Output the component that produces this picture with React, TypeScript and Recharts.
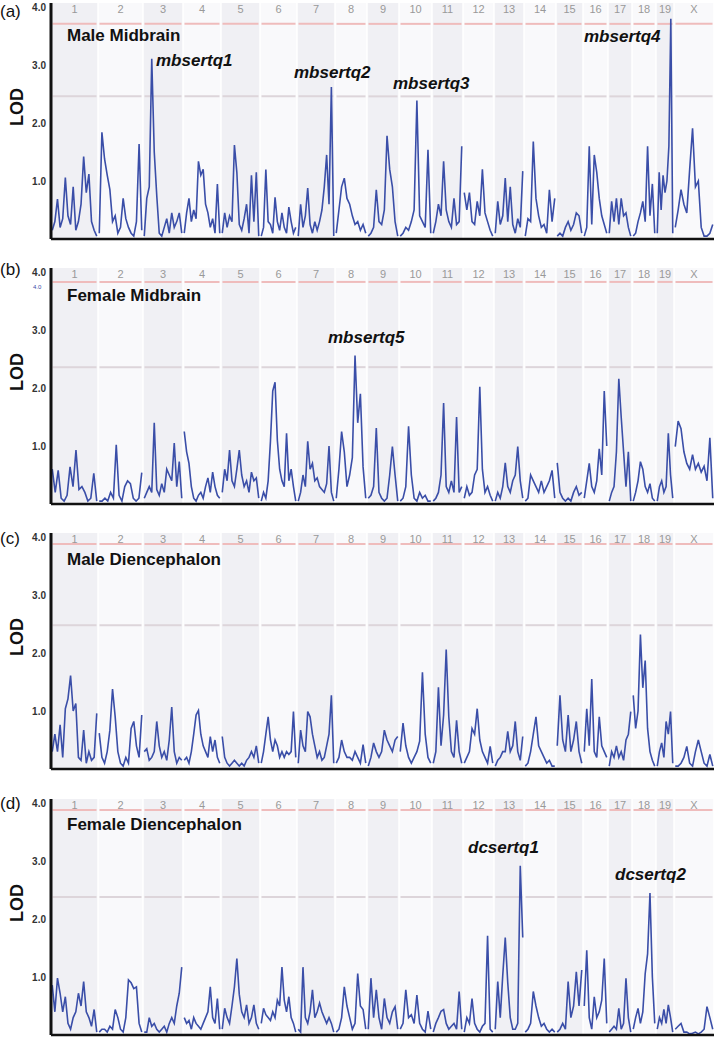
import React from "react";
import { LineChart, Line, XAxis, YAxis, ReferenceArea, ReferenceLine } from "recharts";

const CHROMS = ["1", "2", "3", "4", "5", "6", "7", "8", "9", "10", "11", "12", "13", "14", "15", "16", "17", "18", "19", "X"];
// chromosome spans on the genome axis (Mb, incl. spacing)
const CHROM_LEN = [188, 180, 160, 152, 156, 148, 152, 128, 128, 132, 124, 124, 120, 128, 108, 100, 96, 96, 72, 160];
const LOD_TICKS = [1, 2, 3, 4];

// LOD scores per chromosome, read left to right (evenly spaced along each chromosome)
const maleMidbrain = [
  [0.15, 0.3, 0.69, 0.2, 0.35, 1.06, 0.4, 0.25, 0.9, 0.15, 0.3, 0.6, 1.42, 0.8, 1.12, 0.3, 0.15, 0.05],
  [0.1, 1.84, 1.38, 1.1, 0.85, 0.3, 0.4, 0.1, 0.2, 0.7, 0.35, 0.2, 0.1, 0.05, 0.3, 1.64, 0.15],
  [0.05, 0.7, 0.9, 3.11, 1.5, 0.75, 0.1, 0.05, 0.2, 0.35, 0.1, 0.45, 0.2, 0.3, 0.45, 0.1],
  [0.1, 0.45, 0.7, 0.3, 0.5, 0.35, 1.34, 1.1, 1.2, 0.6, 0.45, 0.2, 0.35, 0.1, 0.95, 0.1],
  [0.1, 0.45, 0.2, 0.4, 0.3, 1.62, 1.15, 0.25, 0.15, 0.35, 0.6, 0.1, 1.1, 0.3, 1.15, 0.05],
  [0.05, 0.2, 1.2, 0.3, 0.25, 0.1, 0.72, 0.3, 0.15, 0.45, 0.2, 0.1, 0.55, 0.3, 0.1, 0.2],
  [0.05, 0.6, 0.2, 0.4, 0.88, 0.25, 0.1, 0.3, 0.15, 0.3, 0.5, 0.9, 1.45, 0.6, 2.62, 0.05],
  [0.1, 0.5, 0.9, 1.05, 0.7, 0.6, 0.4, 0.25, 0.3, 0.15, 0.25, 0.1],
  [0.05, 0.1, 0.2, 0.85, 0.3, 0.25, 0.5, 1.78, 1.2, 0.9, 0.3, 0.05],
  [0.05, 0.1, 0.2, 0.15, 0.3, 0.5, 2.39, 0.4, 0.3, 0.2, 1.54, 0.1],
  [0.1, 0.3, 0.6, 0.4, 1.34, 0.5, 0.3, 0.2, 0.7, 0.25, 0.3, 1.6],
  [0.8, 0.5, 0.8, 0.3, 0.25, 0.65, 0.4, 1.2, 0.45, 0.3, 0.15, 0.05],
  [0.1, 0.65, 0.25, 0.4, 1.05, 0.3, 0.9, 0.25, 0.1, 0.35, 0.2, 1.17],
  [0.05, 0.35, 0.3, 1.68, 0.7, 0.4, 0.2, 0.25, 0.1, 0.85, 0.3, 0.7],
  [0.05, 0.1, 0.05, 0.2, 0.3, 0.15, 0.25, 0.45, 0.4, 0.1],
  [0.05, 0.2, 1.6, 0.25, 1.45, 1.15, 0.7, 0.4, 0.25, 0.1],
  [0.1, 0.65, 0.3, 0.7, 0.25, 0.7, 0.4, 0.45, 0.2, 0.05],
  [0.05, 0.1, 0.3, 0.45, 0.65, 0.3, 1.6, 0.4, 0.95, 0.1],
  [0.1, 1.15, 0.5, 1.1, 0.8, 1.0, 1.6, 3.8, 0.1],
  [0.2, 0.5, 0.85, 0.6, 0.45, 1.2, 1.91, 0.9, 1.0, 0.2, 0.05, 0.05, 0.1, 0.25],
];

const femaleMidbrain = [
  [0.6, 0.2, 0.58, 0.1, 0.05, 0.15, 0.64, 0.3, 0.93, 0.25, 0.3, 0.2, 0.05, 0.1, 0.53, 0.05],
  [0.05, 0.05, 0.1, 0.05, 0.2, 0.1, 1.02, 0.15, 0.05, 0.3, 0.4, 0.35, 0.1, 0.05, 0.1, 0.54],
  [0.1, 0.2, 0.3, 0.2, 1.4, 0.25, 0.15, 0.35, 0.2, 0.6, 0.5, 0.4, 1.05, 0.3, 0.73, 0.1],
  [1.25, 0.9, 0.7, 0.3, 0.1, 0.05, 0.15, 0.2, 0.1, 0.3, 0.45, 0.2, 0.55, 0.3, 0.15, 0.1],
  [0.2, 0.6, 0.4, 0.93, 0.4, 0.3, 0.6, 0.93, 0.5, 0.3, 0.4, 0.2, 0.55, 0.4, 0.45, 0.1],
  [0.05, 0.2, 0.1, 0.4, 1.08, 1.95, 2.1, 1.1, 0.6, 0.4, 0.3, 1.22, 0.4, 0.6, 0.3, 0.05],
  [0.05, 0.2, 0.5, 0.3, 1.08, 0.6, 0.7, 0.4, 0.45, 0.3, 0.25, 0.2, 0.35, 1.0, 0.2, 0.05],
  [0.1, 0.6, 1.25, 0.9, 0.3, 0.5, 0.8, 2.56, 1.4, 1.9, 0.64, 0.1],
  [0.1, 0.15, 0.3, 1.31, 0.2, 0.1, 0.05, 0.1, 0.5, 0.99, 0.5, 0.05],
  [0.05, 0.1, 0.3, 1.34, 0.5, 0.1, 0.05, 0.2, 0.1, 0.15, 0.05, 0.05],
  [0.05, 0.1, 0.2, 0.5, 1.74, 0.3, 0.2, 0.4, 0.2, 1.5, 0.2, 0.3],
  [0.1, 0.3, 0.15, 0.2, 0.5, 0.6, 2.02, 0.6, 0.2, 0.3, 0.15, 0.05],
  [0.05, 0.2, 0.1, 0.3, 0.71, 0.3, 0.2, 0.4, 0.5, 0.99, 0.4, 0.1],
  [0.05, 0.1, 0.5, 0.4, 0.3, 0.2, 0.4, 0.2, 0.3, 0.4, 0.58, 0.1],
  [0.71, 0.2, 0.1, 0.05, 0.1, 0.05, 0.2, 0.3, 0.15, 0.2],
  [0.1, 0.4, 0.7, 0.3, 0.2, 0.4, 0.95, 0.5, 1.95, 1.0],
  [0.05, 0.2, 0.3, 0.9, 2.16, 1.5, 0.9, 0.3, 0.9, 0.05],
  [0.05, 0.2, 0.4, 0.73, 0.6, 0.3, 0.2, 0.35, 0.1, 0.05],
  [0.05, 0.3, 0.4, 0.2, 0.3, 1.22, 0.5, 0.1],
  [0.99, 1.43, 1.3, 0.9, 0.7, 0.6, 0.85, 0.6, 0.7, 0.55, 0.65, 0.4, 1.14, 0.1],
];

const maleDiencephalon = [
  [0.3, 0.6, 0.3, 0.76, 0.2, 1.04, 1.21, 1.61, 1.0, 1.13, 0.2, 0.15, 0.67, 0.1, 0.3, 0.15, 0.2, 0.96],
  [0.62, 0.2, 0.1, 0.3, 0.67, 1.38, 0.9, 0.3, 0.1, 0.05, 0.2, 0.1, 0.7, 0.82, 0.4, 0.2, 0.93],
  [0.3, 0.35, 0.15, 0.2, 0.3, 0.82, 0.4, 0.2, 0.3, 0.15, 0.5, 1.07, 0.3, 0.1, 0.2, 0.15],
  [0.15, 0.2, 0.1, 0.3, 0.6, 0.93, 1.01, 0.6, 0.4, 0.3, 0.2, 0.56, 0.3, 0.5, 0.2, 0.1],
  [0.56, 0.2, 0.1, 0.05, 0.1, 0.15, 0.1, 0.05, 0.1, 0.05, 0.15, 0.2, 0.3, 0.2, 0.4, 0.1],
  [0.1, 0.3, 0.6, 0.9, 0.5, 0.3, 0.5, 0.4, 0.2, 0.3, 0.2, 0.3, 0.25, 0.3, 0.99, 0.2],
  [0.1, 0.67, 0.4, 0.3, 0.99, 0.9, 0.6, 0.4, 0.2, 0.3, 0.15, 0.2, 0.4, 0.6, 1.27, 0.1],
  [0.1, 0.2, 0.5, 0.3, 0.2, 0.2, 0.15, 0.3, 0.2, 0.1, 0.42, 0.1],
  [0.05, 0.2, 0.45, 0.3, 0.2, 0.3, 0.67, 0.5, 0.4, 0.3, 0.5, 0.56],
  [0.3, 0.79, 0.4, 0.2, 0.1, 0.2, 0.3, 0.48, 1.67, 0.6, 0.2, 0.1],
  [0.1, 0.3, 1.41, 0.4, 0.93, 2.06, 0.9, 0.3, 0.2, 0.84, 0.3, 0.1],
  [0.1, 0.2, 0.3, 0.7, 0.6, 1.04, 0.5, 0.3, 0.2, 0.1, 0.39, 0.1],
  [0.05, 0.15, 0.2, 0.3, 0.3, 0.65, 0.3, 0.4, 0.82, 0.3, 0.15, 0.56],
  [0.05, 0.1, 0.3, 0.6, 0.9, 0.4, 0.3, 0.2, 0.1, 0.15, 0.05, 0.05],
  [0.4, 1.27, 0.5, 0.3, 0.93, 0.3, 0.5, 0.82, 0.3, 0.1],
  [0.3, 1.04, 0.4, 1.55, 0.3, 0.2, 0.9, 0.4, 0.3, 0.2],
  [0.05, 0.3, 0.2, 0.4, 0.2, 0.3, 0.15, 0.5, 0.6, 0.99],
  [1.27, 0.7, 1.0, 2.32, 1.4, 1.87, 0.7, 0.3, 0.15, 0.05],
  [0.05, 0.3, 0.45, 0.2, 0.82, 0.6, 0.99, 0.1],
  [0.05, 0.05, 0.1, 0.2, 0.39, 0.1, 0.05, 0.3, 0.5, 0.3, 0.1, 0.05, 0.25, 0.05],
];

const femaleDiencephalon = [
  [0.86, 0.4, 0.98, 0.72, 0.4, 0.66, 0.2, 0.1, 0.3, 0.4, 0.72, 0.5, 0.92, 0.4, 0.3, 0.15, 0.44, 0.05],
  [0.05, 0.1, 0.1, 0.05, 0.15, 0.1, 0.44, 0.3, 0.1, 0.05, 0.3, 0.95, 0.9, 0.8, 0.83, 0.2, 0.05],
  [0.05, 0.05, 0.3, 0.15, 0.2, 0.1, 0.05, 0.1, 0.15, 0.05, 0.2, 0.3, 0.2, 0.5, 0.72, 1.17],
  [0.3, 0.2, 0.25, 0.1, 0.3, 0.2, 0.15, 0.1, 0.2, 0.3, 0.4, 0.83, 0.3, 0.2, 0.63, 0.1],
  [0.1, 0.46, 0.3, 0.2, 0.5, 0.83, 1.32, 0.7, 0.4, 0.3, 0.52, 0.2, 0.3, 0.52, 0.2, 0.1],
  [0.2, 0.46, 0.35, 0.3, 0.25, 0.4, 0.3, 0.6, 0.5, 1.17, 0.6, 0.4, 0.66, 0.3, 0.2, 0.05],
  [0.1, 0.05, 1.17, 0.3, 0.2, 0.4, 0.78, 0.3, 0.4, 0.55, 0.4, 0.3, 0.2, 0.3, 0.2, 0.05],
  [0.05, 0.1, 0.3, 0.83, 0.5, 0.3, 0.1, 0.2, 1.06, 0.5, 0.44, 0.1],
  [0.1, 0.98, 0.3, 0.78, 0.3, 0.1, 0.63, 0.3, 0.2, 0.4, 0.49, 0.1],
  [0.1, 0.2, 0.78, 0.3, 0.35, 0.2, 0.69, 0.2, 0.1, 0.05, 0.41, 0.1],
  [0.05, 0.2, 0.3, 0.41, 0.44, 0.2, 0.1, 0.15, 0.2, 0.1, 0.75, 0.1],
  [0.05, 0.3, 0.2, 0.63, 0.2, 0.1, 0.05, 0.15, 0.2, 1.71, 0.1, 0.05],
  [0.1, 0.92, 0.3, 1.03, 1.68, 0.9, 0.3, 0.1, 0.1, 0.2, 2.92, 1.68],
  [0.05, 0.1, 0.2, 0.75, 0.5, 0.3, 0.15, 0.2, 0.1, 0.05, 0.1, 0.05],
  [0.05, 0.1, 0.2, 0.1, 0.92, 0.3, 0.5, 1.09, 0.5, 1.12],
  [0.5, 1.46, 0.3, 0.1, 0.66, 0.3, 0.4, 0.6, 1.32, 0.2],
  [0.05, 0.1, 0.15, 0.1, 0.46, 0.1, 0.2, 0.98, 0.3, 0.05],
  [0.1, 0.3, 0.46, 0.2, 0.4, 1.06, 1.4, 2.45, 1.0, 0.2],
  [0.1, 0.3, 0.2, 0.44, 0.2, 0.52, 0.3, 0.05],
  [0.1, 0.15, 0.2, 0.05, 0.05, 0.02, 0.03, 0.05, 0.02, 0.05, 0.1, 0.49, 0.3, 0.1],
];

// significant / suggestive thresholds per panel
const significant = [3.71, 3.83, 3.88, 3.88];
const suggestive = [2.46, 2.36, 2.48, 2.38];

const panelLetters = ["(a)", "(b)", "(c)", "(d)"];
const panelTitles = ["Male Midbrain", "Female Midbrain", "Male Diencephalon", "Female Diencephalon"];
const qtlLabels = [
  [{ text: "mbsertq1", left: 156, top: 61 }, { text: "mbsertq2", left: 294, top: 73 }, { text: "mbsertq3", left: 393, top: 84 }, { text: "mbsertq4", left: 584, top: 37 }],
  [{ text: "mbsertq5", left: 328, top: 73 }],
  [],
  [{ text: "dcsertq1", left: 468, top: 52 }, { text: "dcsertq2", left: 615, top: 79 }],
];
const panelTops = [0, 265, 530, 796];
const letterTops = [12, 5, 9, 8];
const titleTops = [36, 31, 30, 29];

const FONT = '"Liberation Sans", Arial, Helvetica, sans-serif';
const STARTS = CHROM_LEN.map((_, i) => CHROM_LEN.slice(0, i).reduce((a, b) => a + b, 0));
const TOTAL = CHROM_LEN.reduce((a, b) => a + b, 0);

function buildRows(lods: number[][]) {
  const rows: { x: number; lod: number | null }[] = [];
  lods.forEach((vals, c) => {
    const s = STARTS[c] + 5;
    const e = STARTS[c] + CHROM_LEN[c] - 5;
    vals.forEach((v, i) => rows.push({ x: s + ((e - s) * i) / (vals.length - 1), lod: v }));
    rows.push({ x: e + 2, lod: null });
  });
  return rows;
}

const panelData = [maleMidbrain, femaleMidbrain, maleDiencephalon, femaleDiencephalon];

function Panel({ idx }: { idx: number }) {
  const rows = buildRows(panelData[idx]);
  return (
    <div style={{ position: "absolute", left: 0, top: panelTops[idx], width: 717, height: 265 }}>
      <LineChart width={717} height={265} data={rows} margin={{ top: 3, right: 3, bottom: 24, left: 0 }}>
        {CHROMS.map((c, i) => (
          <ReferenceArea
            key={"b" + c}
            x1={STARTS[i] + 3}
            x2={STARTS[i] + CHROM_LEN[i] - 3}
            fill={i % 2 === 0 ? "#f0f0f4" : "#f9f9fb"}
            fillOpacity={1}
            stroke="none"
            label={{ value: c, position: "insideTop", offset: 2, fill: "#999", fontSize: 11, fontFamily: FONT }}
          />
        ))}
        {CHROMS.map((c, i) => (
          <ReferenceLine
            key={"s" + c}
            segment={[{ x: STARTS[i] + 6, y: significant[idx] }, { x: STARTS[i] + CHROM_LEN[i] - 6, y: significant[idx] }]}
            stroke="#efbcbc"
            strokeWidth={2}
          />
        ))}
        {CHROMS.map((c, i) => (
          <ReferenceLine
            key={"g" + c}
            segment={[{ x: STARTS[i] + 6, y: suggestive[idx] }, { x: STARTS[i] + CHROM_LEN[i] - 6, y: suggestive[idx] }]}
            stroke="#ddd5da"
            strokeWidth={2}
          />
        ))}
        <XAxis
          type="number"
          dataKey="x"
          domain={[0, TOTAL]}
          tick={false}
          tickLine={false}
          height={2}
          axisLine={{ stroke: "#111", strokeWidth: 2.5 }}
        />
        <YAxis
          type="number"
          domain={[0, 4.07]}
          ticks={LOD_TICKS}
          tickFormatter={(v: number) => v.toFixed(1)}
          width={51}
          tickLine={false}
          tickSize={3}
          tickMargin={2}
          axisLine={{ stroke: "#111", strokeWidth: 3 }}
          tick={{ fill: "#333", fontSize: 10, fontWeight: 700, fontFamily: FONT }}
        />
        <Line
          type="linear"
          dataKey="lod"
          stroke="#3a4ea8"
          strokeWidth={1.6}
          dot={false}
          activeDot={false}
          connectNulls={false}
          isAnimationActive={false}
        />
      </LineChart>
      <div style={{ position: "absolute", left: 0, top: letterTops[idx], transform: "translateY(-50%)", fontFamily: FONT, fontSize: 17, color: "#111" }}>
        {panelLetters[idx]}
      </div>
      <div
        style={{
          position: "absolute",
          left: 17,
          top: 107,
          transform: "translate(-50%, -50%) rotate(-90deg)",
          fontFamily: FONT,
          fontSize: 18,
          fontWeight: 700,
          color: "#111",
        }}
      >
        LOD
      </div>
      <div style={{ position: "absolute", left: 67, top: titleTops[idx], transform: "translateY(-50%)", fontFamily: FONT, fontSize: 17, fontWeight: 700, color: "#111", whiteSpace: "nowrap" }}>
        {panelTitles[idx]}
      </div>
      {qtlLabels[idx].map((q) => (
        <div
          key={q.text}
          style={{ position: "absolute", left: q.left, top: q.top, transform: "translateY(-50%)", fontFamily: FONT, fontSize: 17, fontWeight: 700, fontStyle: "italic", color: "#111", whiteSpace: "nowrap" }}
        >
          {q.text}
        </div>
      ))}
      {idx === 1 && (
        <div style={{ position: "absolute", left: 33, top: 19, fontFamily: FONT, fontSize: 6, color: "#3a4ea8" }}>4.0</div>
      )}
    </div>
  );
}

export default function App() {
  return (
    <div style={{ position: "absolute", left: 0, top: 0, width: 717, height: 1038, background: "#fff", overflow: "hidden" }}>
      {[0, 1, 2, 3].map((i) => (
        <Panel key={i} idx={i} />
      ))}
    </div>
  );
}
